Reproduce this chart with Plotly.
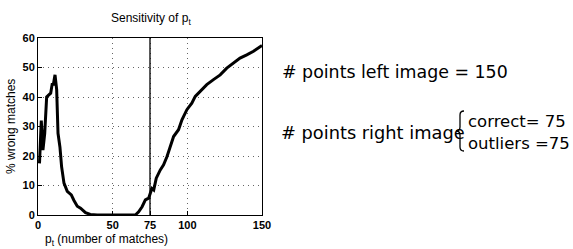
import plotly.graph_objects as go

# ---- data ----
pt = [1, 2.2, 3.3, 4.5, 5.8, 7.3, 8.5, 9.6, 10.2, 11.4, 12.5, 13.4, 14.7, 15.8, 17.4,
      19.6, 22.3, 24, 26.3, 28.5, 29.6, 31.8, 35, 39.6, 50, 60, 65.2, 67.4, 69.7, 71.9,
      74.1, 75.2, 76.3, 77.5, 79.2, 81.9, 84.1, 86.4, 88.6, 90.8, 94.1, 96.4, 99.7, 103,
      105.3, 108.6, 113, 117.5, 122, 126.4, 130.9, 135.3, 139.8, 144.3, 150]
wrong = [17.5, 32, 22, 27.7, 40, 40.8, 41.3, 44.7, 44, 47.5, 42.5, 27.7, 23, 16.4, 10.8,
         8, 6.8, 5, 3, 2.3, 1.7, 0.8, 0.2, 0, 0, 0, 0, 1.1, 2.8, 5.1,
         5.7, 7.4, 9, 8.5, 12.5, 15.3, 17, 19.8, 23.2, 26.6, 28.9, 32.3, 35.7, 37.9,
         40.2, 41.9, 44.2, 45.9, 47.5, 49.8, 51.5, 53.2, 54.3, 55.5, 57.5]
marker_x = [75, 75]
marker_y = [0, 60]
x_ticks = [0, 50, 75, 100, 150]
y_ticks = [0, 10, 20, 30, 40, 50, 60]
title_text = "Sensitivity of p<sub>t</sub>"
xlabel = "p<sub>t</sub> (number of matches)"
ylabel = "% wrong matches"
n_left = 150
n_correct = 75
n_outliers = 75

fig = go.Figure()
fig.add_trace(go.Scatter(x=pt, y=wrong, mode="lines",
                         line=dict(color="black", width=3), showlegend=False))
fig.add_trace(go.Scatter(x=marker_x, y=marker_y, mode="lines",
                         line=dict(color="black", width=1.3), showlegend=False))

axis_common = dict(showline=True, linecolor="black", linewidth=1, mirror=True,
                   ticks="inside", ticklen=4, tickcolor="black",
                   showgrid=True, gridcolor="rgba(0,0,0,0.6)", griddash="1px,4px", gridwidth=1,
                   zeroline=False,
                   tickfont=dict(family="Liberation Sans, Arial", size=11, color="black",
                                 weight="bold"))
fig.update_xaxes(range=[0, 150], tickvals=x_ticks, ticktext=[str(v) for v in x_ticks],
                 **axis_common)
fig.update_yaxes(range=[0, 60], tickvals=y_ticks, **axis_common)

W, H = 573, 249
L, R, T, B = 38, 311, 38, 34
fig.update_layout(
    width=W, height=H,
    margin=dict(l=L, r=R, t=T, b=B, autoexpand=False),
    plot_bgcolor="white", paper_bgcolor="white",
    font=dict(family="Liberation Sans, Arial", color="black"),
)

def px(x):
    return (x - L) / (W - L - R)

def py(y):
    return (H - B - y) / (H - T - B)

ann = []
ann.append(dict(text=title_text, x=151, y=19, showarrow=False, font=dict(size=12)))
ann.append(dict(text=xlabel, x=106, y=240, showarrow=False, font=dict(size=12)))
ann.append(dict(text=ylabel, x=11, y=127, textangle=-90, showarrow=False, font=dict(size=12)))
ann.append(dict(text=f"# points left image = {n_left}", x=280, y=72, xanchor="left",
                showarrow=False, font=dict(family="DejaVu Sans", size=17.4, color="black")))
ann.append(dict(text="# points right image", x=279, y=132, xanchor="left",
                showarrow=False, font=dict(family="DejaVu Sans", size=17.8, color="black")))
ann.append(dict(text=f"correct= {n_correct}", x=466, y=122, xanchor="left",
                showarrow=False, font=dict(family="DejaVu Sans", size=16.5, color="black")))
ann.append(dict(text=f"outliers ={n_outliers}", x=466, y=143, xanchor="left",
                showarrow=False, font=dict(family="DejaVu Sans", size=16.5, color="black")))
for a in ann:
    a["xref"] = "paper"; a["yref"] = "paper"
    a["x"] = px(a["x"])
    a["y"] = py(a["y"])
    a.setdefault("xanchor", "center")
    a.setdefault("yanchor", "middle")
fig.update_layout(annotations=ann)

# curly brace drawn as a path (pixel layout positions converted to paper coords)
pts = [("M", 464, 111), ("Q", 460, 111), ("", 460, 115), ("L", 460, 127),
       ("Q", 460, 131), ("", 456, 131), ("Q", 460, 131), ("", 460, 135),
       ("L", 460, 147), ("Q", 460, 151), ("", 464, 151)]
path = " ".join(f"{c} {px(x):.5f},{py(y):.5f}".strip() for c, x, y in pts)
fig.add_shape(type="path", path=path, xref="paper", yref="paper",
              line=dict(color="black", width=1.3))

fig.write_html("out.html", config={"displayModeBar": False},
               post_script="document.body.style.margin='0';")
